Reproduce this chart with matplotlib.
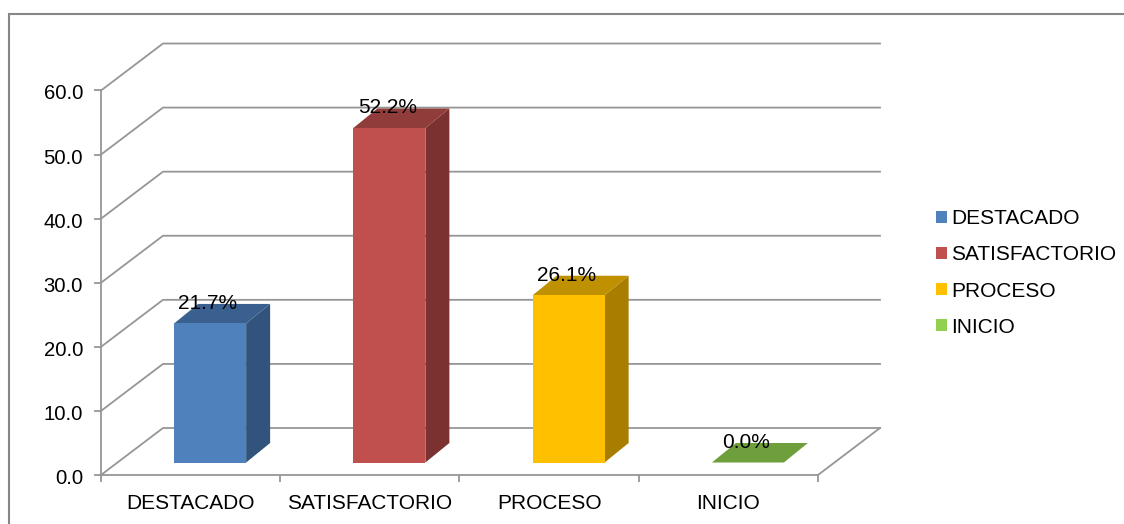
import matplotlib
matplotlib.use('Agg')
from matplotlib import pyplot as plt
from matplotlib.patches import Polygon, Rectangle
from matplotlib.transforms import ScaledTranslation

categories = ['DESTACADO', 'SATISFACTORIO', 'PROCESO', 'INICIO']
values = [21.7, 52.2, 26.1, 0.0]
labels = ['21.7%', '52.2%', '26.1%', '0.0%']
yticks = [0, 10, 20, 30, 40, 50, 60]

front = ['#4F81BD', '#C0504D', '#FFC000', '#92D050']
side = ['#31537C', '#7A3130', '#A87E00', '#5F8A33']
top = ['#3A6090', '#903C3A', '#BF9000', '#6F9F3C']

GRID = '#969696'
W, H = 1124, 524
plt.rcParams['font.family'] = ['Liberation Sans', 'DejaVu Sans']
plt.rcParams['font.size'] = 15

fig = plt.figure(figsize=(W / 100, H / 100), dpi=100)
ax = fig.add_axes([101 / W, 1 - 475 / H, 717 / W, 384.5 / H])
ax.set_xlim(0, 4)
ax.set_ylim(0, 60)

# depth of the fake 3d box in data units
unit_x = 717 / 4
unit_y = 384.5 / 60
box_dx = 62 / unit_x
box_dy = 47 / unit_y
bar_dx = 24 / unit_x
bar_dy = 19.5 / unit_y
gap_dx = 19.5 / unit_x
gap_dy = 12.5 / unit_y
bar_w = 72 / unit_x

for v in yticks:
    ax.plot([0, box_dx, 4 + box_dx], [v, v + box_dy, v + box_dy],
            color=GRID, lw=1.3, clip_on=False, zorder=1)
ax.plot([4, 4 + box_dx], [0, box_dy], color=GRID, lw=1.3, clip_on=False, zorder=1)

for i, v in enumerate(values):
    x0 = i + 0.5 - bar_w / 2 + gap_dx
    x1 = x0 + bar_w
    y0 = gap_dy
    y1 = y0 + v
    ax.add_patch(Polygon([(x1, y0), (x1 + bar_dx, y0 + bar_dy),
                          (x1 + bar_dx, y1 + bar_dy), (x1, y1)],
                         fc=side[i], ec='none', zorder=3, clip_on=False))
    ax.add_patch(Polygon([(x0, y1), (x1, y1), (x1 + bar_dx, y1 + bar_dy),
                          (x0 + bar_dx, y1 + bar_dy)],
                         fc=top[i], ec='none', zorder=3, clip_on=False))
    if v > 0:
        ax.add_patch(Rectangle((x0, y0), bar_w, v, fc=front[i], ec='none', zorder=4))
    ax.text(x0 + bar_w / 2 - 0.012, y1 + bar_dy + 0.1, labels[i], ha='center',
            va='center', color='black', zorder=5, clip_on=False)

ax.set_yticks(yticks)
ax.set_yticklabels(['%.1f' % v for v in yticks])
ax.set_xticks(range(5))
ax.set_xticklabels([])
ax.set_xticks([i + 0.5 for i in range(4)], categories, minor=True)
ax.tick_params(axis='both', which='major', color=GRID, width=1.3, length=5)
ax.tick_params(axis='x', which='minor', length=0, pad=14)
ax.tick_params(axis='y', pad=8, labelsize=14.6)
# y labels sit a little under their ticks in the original
nudge = ScaledTranslation(0, -1.5 / 100, fig.dpi_scale_trans)
for t in ax.get_yticklabels():
    t.set_transform(t.get_transform() + nudge)
for s in ['top', 'right']:
    ax.spines[s].set_visible(False)
for s in ['left', 'bottom']:
    ax.spines[s].set_color(GRID)
    ax.spines[s].set_linewidth(1.3)
ax.patch.set_alpha(0)

handles = [Rectangle((0, 0), 1, 1, fc=c, ec='none') for c in front]
fig.legend(handles, categories, loc='center left', bbox_to_anchor=(936 / W, 1 - 273 / H),
           frameon=False, handlelength=0.53, handleheight=0.53, handletextpad=0.2,
           labelspacing=0.82, borderpad=0, borderaxespad=0)

# chart area border, runs off the right and bottom of the picture
fig.add_artist(Rectangle((9 / W, -0.05), 1.05, 1 - 14 / H + 0.05, fc='none',
                         ec='#868686', lw=1.5, transform=fig.transFigure))

fig.savefig('out.png', dpi=100)
